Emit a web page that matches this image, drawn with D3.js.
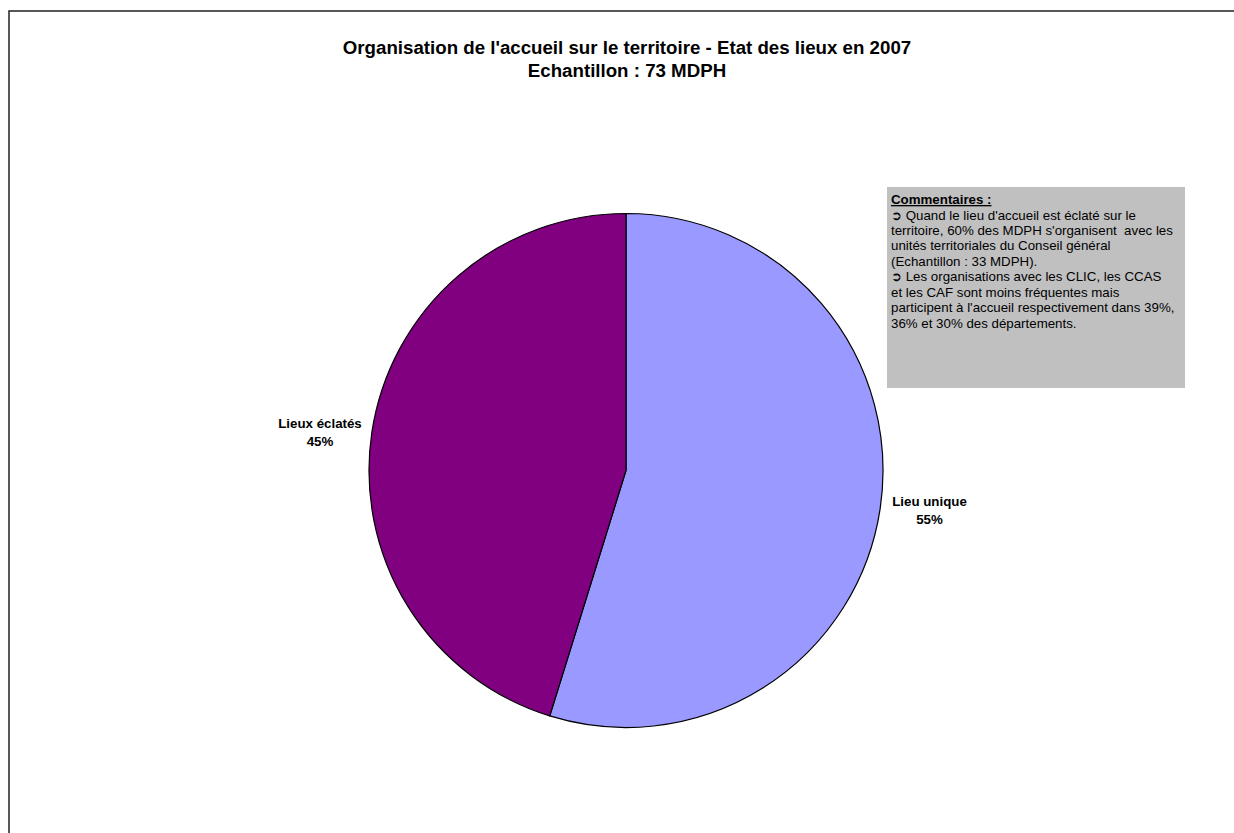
<!DOCTYPE html>
<html><head><meta charset="utf-8">
<script src="https://cdn.jsdelivr.net/npm/d3@7"></script>
<style>body{margin:0;background:#fff}svg{display:block}</style>
</head><body>
<svg id="c" width="1234" height="833"></svg>
<script>
const categories = ["Lieu unique", "Lieux éclatés"];
const counts = [40, 33];
const percentLabels = ["55%", "45%"];
const colors = ["#9999FF", "#800080"];
const titleLines = ["Organisation de l'accueil sur le territoire - Etat des lieux en 2007", "Echantillon : 73 MDPH"];
const commentTitle = "Commentaires :";
const commentLines = [
  "\u27B2 Quand le lieu d'accueil est éclaté sur le",
  "territoire, 60% des MDPH s'organisent  avec les",
  "unités territoriales du Conseil général",
  "(Echantillon : 33 MDPH).",
  "\u27B2 Les organisations avec les CLIC, les CCAS",
  "et les CAF sont moins fréquentes mais",
  "participent à l'accueil respectivement dans 39%,",
  "36% et 30% des départements."
];

const svg = d3.select("#c");
const font = "'Liberation Sans', Arial, sans-serif";

svg.append("rect").attr("x", 9).attr("y", 11).attr("width", 1240).attr("height", 840)
  .attr("fill", "#fff").attr("stroke", "#222").attr("stroke-width", 1.5);

const title = svg.append("text").attr("text-anchor", "middle").attr("font-family", font)
  .attr("font-weight", "bold").attr("font-size", 18.7);
titleLines.forEach((t, i) => title.append("tspan").attr("x", 627).attr("y", 54 + i * 23).text(t));

const cx = 626, cy = 470.5, r = 257;
const pie = d3.pie().sort(null).value(d => d)(counts);
const arc = d3.arc().innerRadius(0).outerRadius(r);
const g = svg.append("g").attr("transform", `translate(${cx},${cy})`);
g.selectAll("path").data(pie).join("path")
  .attr("d", arc).attr("fill", (d, i) => colors[i])
  .attr("stroke", "#000").attr("stroke-width", 1.2);

const labelPos = [[929.5, 506], [320, 428]];
pie.forEach((d, i) => {
  const t = svg.append("text").attr("text-anchor", "middle").attr("font-family", font)
    .attr("font-weight", "bold").attr("font-size", 13.3).attr("fill", "#000");
  t.append("tspan").attr("x", labelPos[i][0]).attr("y", labelPos[i][1]).text(categories[i]);
  t.append("tspan").attr("x", labelPos[i][0]).attr("y", labelPos[i][1] + 17.5).text(percentLabels[i]);
});

svg.append("rect").attr("x", 887).attr("y", 187).attr("width", 298).attr("height", 201).attr("fill", "#C0C0C0");
const ct = svg.append("text").attr("font-family", font).attr("font-size", 13.3).attr("fill", "#000")
  .style("white-space", "pre");
ct.append("tspan").attr("x", 891).attr("y", 204).attr("font-weight", "bold")
  .attr("text-decoration", "underline").text(commentTitle);
commentLines.forEach((l, i) => ct.append("tspan").attr("x", 891).attr("y", 219.5 + i * 15.45).text(l));
</script>
</body></html>
